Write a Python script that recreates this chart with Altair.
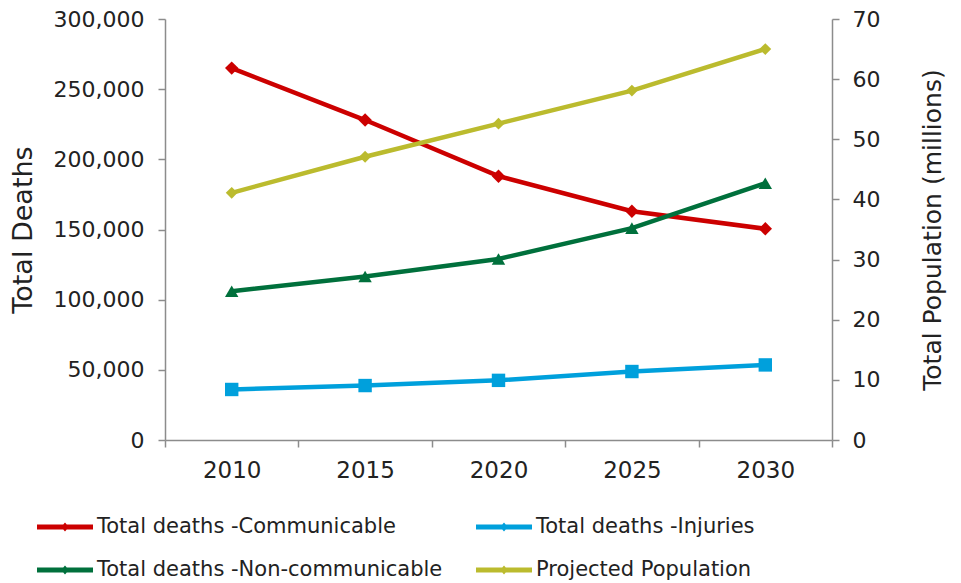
import altair as alt
import pandas as pd

years = ["2010", "2015", "2020", "2025", "2030"]
communicable = [265000, 228000, 188000, 163000, 150500]
non_communicable = [106000, 116500, 129000, 151000, 183000]
injuries = [36000, 38800, 42500, 48800, 53500]
population = [41.1, 47.1, 52.6, 58.1, 65.0]

series_names = [
    "Total deaths -Communicable",
    "Total deaths -Injuries",
    "Total deaths -Non-communicable",
    "Projected Population",
]
colors = ["#CC0000", "#00A0DC", "#00703C", "#BBBB2E"]
shapes = ["diamond", "square", "triangle-up", "diamond"]

rows = []
for i, vals in [(0, communicable), (1, injuries), (2, non_communicable)]:
    for y, v in zip(years, vals):
        rows.append({"year": y, "series": series_names[i], "marker": shapes[i], "value": v})
deaths_df = pd.DataFrame(rows)
pop_df = pd.DataFrame({"year": years, "series": series_names[3], "marker": shapes[3], "value": population})

FONT = "DejaVu Sans"
GRAY = "#8C8C8C"
TXT = "#222222"

x_enc = alt.X(
    "year:O",
    scale=alt.Scale(type="band", paddingInner=0, paddingOuter=0),
    axis=alt.Axis(title=None, tickBand="extent", labelAngle=0, labelFontSize=23,
                  labelPadding=12, tickSize=7, domainColor=GRAY, tickColor=GRAY,
                  domainWidth=1.5, tickWidth=1.5, labelColor=TXT),
)
color_enc = alt.Color(
    "series:N",
    scale=alt.Scale(domain=series_names, range=colors),
    legend=alt.Legend(
        title=None, orient="none", legendX=-128, legendY=480, columns=2, direction="horizontal",
        symbolType="M-1,-0.09 L1,-0.09 L1,0.09 L-1,0.09 Z M0,-0.16 L0.14,0 L0,0.16 L-0.14,0 Z",
        symbolSize=3136, symbolStrokeWidth=0, labelFontSize=21, labelColor=TXT,
        rowPadding=5, columnPadding=33, labelOffset=4, gridAlign="all",
        labelLimit=500,
    ),
)
color_nolegend = alt.Color("series:N", scale=alt.Scale(domain=series_names, range=colors), legend=None)
shape_enc = alt.Shape("marker:N", scale=None)

y_left = alt.Y(
    "value:Q",
    scale=alt.Scale(domain=[0, 300000]),
    axis=alt.Axis(title="Total Deaths", values=[0, 50000, 100000, 150000, 200000, 250000, 300000],
                  labelExpr="format(datum.value, ',')", grid=False, orient="left",
                  labelFontSize=22, titleFontSize=27,
                  titleFontWeight="normal", titlePadding=16, labelPadding=14, tickSize=7,
                  domainColor=GRAY, tickColor=GRAY, domainWidth=1.5, tickWidth=1.5,
                  labelColor=TXT, titleColor=TXT),
)
y_right = alt.Y(
    "value:Q",
    scale=alt.Scale(domain=[0, 70]),
    axis=alt.Axis(title="Total Population (millions)", values=[0, 10, 20, 30, 40, 50, 60, 70],
                  grid=False, orient="right", labelFontSize=22, titleFontSize=25, titleAngle=270,
                  titleFontWeight="normal", titlePadding=66, labelPadding=13, tickSize=7,
                  domainColor=GRAY, tickColor=GRAY, domainWidth=1.5, tickWidth=1.5,
                  labelColor=TXT, titleColor=TXT),
)

base_d = alt.Chart(deaths_df)
d_line = base_d.mark_line(strokeWidth=4.5).encode(x=x_enc, y=y_left, color=color_enc)
d_pts = base_d.mark_point(filled=True, size=180, opacity=1).encode(
    x=x_enc, y=y_left, color=color_nolegend, shape=shape_enc)

base_p = alt.Chart(pop_df)
p_line = base_p.mark_line(strokeWidth=4.5).encode(x=x_enc, y=y_right, color=color_enc)
p_pts = base_p.mark_point(filled=True, size=140, opacity=1).encode(
    x=x_enc, y=y_right, color=color_nolegend, shape=shape_enc)

chart = alt.layer(alt.layer(d_line, d_pts), alt.layer(p_line, p_pts)).resolve_scale(
    y="independent"
).properties(
    width=667, height=421,
    autosize=alt.AutoSizeParams(type="none"),
    padding={"left": 157, "top": 11, "right": 120, "bottom": 145},
).configure(font=FONT).configure_view(stroke=None)

chart.save("out.html", embed_options={"renderer": "svg", "actions": False})
